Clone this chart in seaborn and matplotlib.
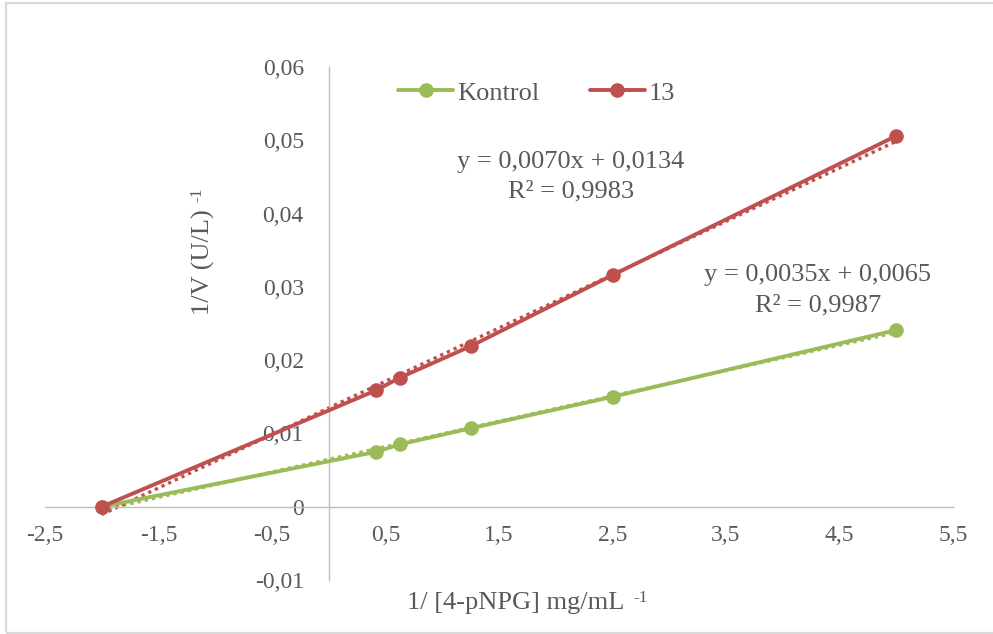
import numpy as np
import pandas as pd
import matplotlib
matplotlib.use("Agg")
import matplotlib.pyplot as plt
import seaborn as sns
from matplotlib.patches import Rectangle

# ---- data ----
x_vals = [-2.0, 0.42, 0.625, 1.25, 2.5, 5.0]
kontrol = [0.0, 0.0075, 0.0085, 0.0107, 0.0150, 0.0241]
seri_13 = [0.0, 0.0159, 0.0176, 0.0219, 0.0316, 0.0506]
series_names = ["Kontrol", "13"]
x_ticks = [-2.5, -1.5, -0.5, 0.5, 1.5, 2.5, 3.5, 4.5, 5.5]
x_tick_labels = ["-2,5", "-1,5", "-0,5", "0,5", "1,5", "2,5", "3,5", "4,5", "5,5"]
y_ticks = [-0.01, 0.0, 0.01, 0.02, 0.03, 0.04, 0.05, 0.06]
y_tick_labels = ["-0,01", "0", "0,01", "0,02", "0,03", "0,04", "0,05", "0,06"]
eq_texts = [("y = 0,0070x + 0,0134", "R\u00b2 = 0,9983"),
            ("y = 0,0035x + 0,0065", "R\u00b2 = 0,9987")]

colors = {"Kontrol": "#9BBB59", "13": "#C0504D"}
text_color = "#595959"

sns.set_theme(style="white")
plt.rcParams["font.family"] = ["Liberation Serif", "DejaVu Serif"]
plt.rcParams["axes.unicode_minus"] = False

df = pd.DataFrame({
    "x": x_vals * 2,
    "y": kontrol + seri_13,
    "series": [series_names[0]] * len(x_vals) + [series_names[1]] * len(x_vals),
})

W, H = 993, 634
fig = plt.figure(figsize=(W / 100, H / 100), dpi=100)
ax = fig.add_axes([45 / W, (H - 580) / H, 908 / W, 513 / H])

# dotted linear trendlines
for name in series_names:
    sub = df[df["series"] == name]
    sns.regplot(data=sub, x="x", y="y", ax=ax, scatter=False, ci=None,
                color=colors[name], truncate=True,
                line_kws=dict(ls=(0, (1, 1.2)), lw=2.4, zorder=2))

sns.lineplot(data=df, x="x", y="y", hue="series", hue_order=series_names,
             palette=colors, marker="o", markersize=10.5, markeredgewidth=0,
             linewidth=2.8, ax=ax, zorder=3, legend=True)

ax.set_xlim(-2.5, 5.5)
ax.set_ylim(-0.01, 0.06)
for s in ["top", "right"]:
    ax.spines[s].set_visible(False)
ax.spines["left"].set_position(("data", 0))
ax.spines["bottom"].set_position(("data", 0))
for s in ["left", "bottom"]:
    ax.spines[s].set_color("#BFBFBF")
    ax.spines[s].set_linewidth(1.0)

ax.set_xticks(x_ticks)
ax.set_xticklabels(x_tick_labels)
ax.set_yticks(y_ticks)
ax.set_yticklabels(y_tick_labels)
ax.tick_params(axis="x", length=0, pad=13, labelsize=17, labelcolor=text_color)
ax.tick_params(axis="y", length=0, pad=18, labelsize=17, labelcolor=text_color)
ax.set_xlabel("")
ax.set_ylabel("")
ax.grid(False)

# legend
handles, labels = ax.get_legend_handles_labels()
leg = ax.legend(handles, labels, loc="center left", ncol=2,
                bbox_to_anchor=(398 / W, 1 - 93 / H), bbox_transform=fig.transFigure,
                frameon=False, fontsize=19, handlelength=2.1, handletextpad=0.15,
                columnspacing=1.9, borderpad=0, borderaxespad=0)
for t in leg.get_texts():
    t.set_color(text_color)

# axis titles (with raised "-1")
ylab = fig.text(203 / W, 1 - 262 / H, "1/V (U/L)", rotation=90,
                ha="center", va="center", fontsize=19, color=text_color)
ax.annotate("-1", xy=(0.25, 1.0), xycoords=ylab, xytext=(0, 5),
            textcoords="offset points", rotation=90, ha="center", va="bottom",
            fontsize=12.5, color=text_color, annotation_clip=False)
xlab = fig.text(516 / W, 1 - 603 / H, "1/ [4-pNPG] mg/mL",
                ha="center", va="center", fontsize=19, color=text_color)
ax.annotate("-1", xy=(1.0, 0.75), xycoords=xlab, xytext=(6, 0),
            textcoords="offset points", ha="left", va="center",
            fontsize=12.5, color=text_color, annotation_clip=False)

# trendline equations
eq_pos = [((571, 162), (571, 191)), ((818, 275), (818, 305))]
for (l1, l2), (p1, p2) in zip(eq_texts, eq_pos):
    fig.text(p1[0] / W, 1 - p1[1] / H, l1, ha="center", va="center",
             fontsize=19, color=text_color)
    fig.text(p2[0] / W, 1 - p2[1] / H, l2, ha="center", va="center",
             fontsize=19, color=text_color)

# outer chart border
fig.patches.append(Rectangle((6 / W, 1 / H), 1.2, 1 - 4 / H, transform=fig.transFigure,
                             fill=False, edgecolor="#D9D9D9", lw=1.6))

fig.savefig("out.png", dpi=100)
